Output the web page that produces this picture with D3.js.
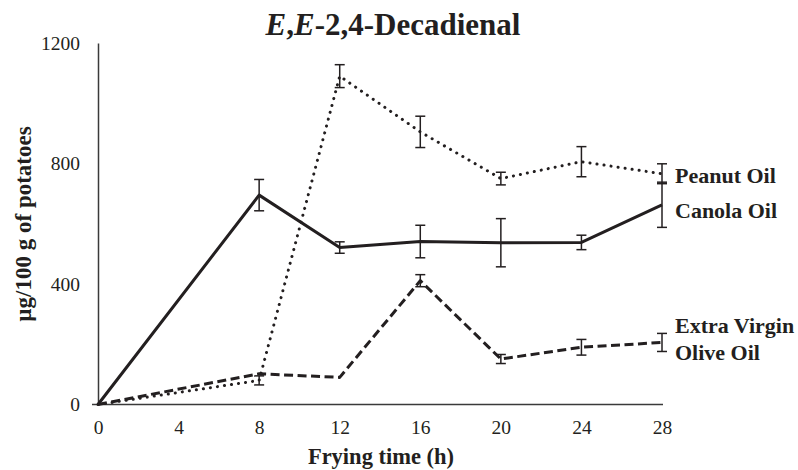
<!DOCTYPE html>
<html>
<head>
<meta charset="utf-8">
<script src="https://cdn.jsdelivr.net/npm/d3@7"></script>
<style>
  html, body { margin: 0; padding: 0; background: #fff; }
  svg { display: block; }
  text { font-family: "Liberation Serif", "Times New Roman", serif; fill: #231f20; }
</style>
</head>
<body>
<svg id="chart" width="798" height="470"></svg>
<script>
// ---- data ----
const hours = [0, 8, 12, 16, 20, 24, 28];
const xTicks = [0, 4, 8, 12, 16, 20, 24, 28];
const yTicks = [0, 400, 800, 1200];

const peanutMean = [0, 80, 1090, 905, 750, 806, 766];
const peanutErr  = [0, 15, 38, 52, 21, 50, 33];

const canolaMean = [0, 695, 521, 541, 537, 538, 663];
const canolaErr  = [0, 52, 19, 54, 80, 24, 75];

const evooMean = [0, 102, 90, 411, 151, 190, 206];
const evooErr  = [0, 0, 0, 20, 15, 26, 30];

const seriesNames = ["Peanut Oil", "Canola Oil", "Extra Virgin Olive Oil"];

// ---- chart ----
const svg = d3.select("#chart");
const x = d3.scaleLinear().domain([0, 28]).range([98, 662]);
const y = d3.scaleLinear().domain([0, 1200]).range([404.5, 43]);

const ink = "#231f20";

// axes
const yAxis = d3.axisLeft(y).tickValues(yTicks).tickSize(0).tickPadding(18).tickFormat(d3.format("d"));
const gy = svg.append("g").attr("transform", `translate(${x(0)},0)`).call(yAxis);
gy.select(".domain").attr("stroke", "#3a3a3a").attr("stroke-width", 1.5);
gy.selectAll("text").attr("font-size", 19.5).attr("font-family", "Liberation Serif").attr("fill", "#333");

const xAxis = d3.axisBottom(x).tickValues(xTicks).tickSize(0).tickPadding(16).tickFormat(d3.format("d"));
const gx = svg.append("g").attr("transform", `translate(0,${y(0)})`).call(xAxis);
gx.select(".domain").remove();
gx.append("line").attr("x1", x(0) - 6).attr("x2", x(28) + 1).attr("y1", 0).attr("y2", 0)
  .attr("stroke", "#3a3a3a").attr("stroke-width", 1.5);
gx.selectAll("text").attr("font-size", 19.5).attr("font-family", "Liberation Serif").attr("fill", "#333");

// series
const series = [
  { name: seriesNames[0], mean: peanutMean, err: peanutErr, dash: "0.1 7", width: 3, cap: "round" },
  { name: seriesNames[1], mean: canolaMean, err: canolaErr, dash: null, width: 3, cap: "butt" },
  { name: seriesNames[2], mean: evooMean, err: evooErr, dash: "9 4.5", width: 3, cap: "butt" }
];

const line = d3.line().x((d, i) => x(hours[i])).y(d => y(d));

series.forEach(s => {
  const eb = svg.append("g");
  hours.forEach((h, i) => {
    const e = s.err[i];
    if (!e) return;
    const cx = x(h), y1 = y(s.mean[i] + e), y2 = y(s.mean[i] - e);
    eb.append("line").attr("x1", cx).attr("x2", cx).attr("y1", y1).attr("y2", y2)
      .attr("stroke", ink).attr("stroke-width", 1.5);
    [y1, y2].forEach(yy => eb.append("line").attr("x1", cx - 5).attr("x2", cx + 5)
      .attr("y1", yy).attr("y2", yy).attr("stroke", ink).attr("stroke-width", 1.5));
  });
});

series.forEach(s => {
  const p = svg.append("path").datum(s.mean).attr("d", line)
    .attr("fill", "none").attr("stroke", ink).attr("stroke-width", s.width)
    .attr("stroke-linecap", s.cap).attr("stroke-linejoin", "round");
  if (s.dash) p.attr("stroke-dasharray", s.dash);
});

// series labels
const lab = svg.append("g").attr("font-size", 22).attr("font-weight", "bold");
lab.append("text").attr("x", 675).attr("y", 183).text(seriesNames[0]);
lab.append("text").attr("x", 675).attr("y", 218).text(seriesNames[1]);
const ev = lab.append("text").attr("x", 675).attr("y", 333);
ev.append("tspan").attr("x", 675).text("Extra Virgin");
ev.append("tspan").attr("x", 675).attr("dy", 27).text("Olive Oil");

// title
const t = svg.append("text").attr("x", 393).attr("y", 35).attr("text-anchor", "middle")
  .attr("font-size", 31).attr("font-weight", "bold");
t.append("tspan").attr("font-style", "italic").text("E");
t.append("tspan").text(",");
t.append("tspan").attr("font-style", "italic").text("E");
t.append("tspan").text("-2,4-Decadienal");

// axis titles
svg.append("text").attr("x", 381).attr("y", 464).attr("text-anchor", "middle")
  .attr("font-size", 22.5).attr("font-weight", "bold").text("Frying time (h)");
svg.append("text").attr("transform", "translate(31,224) rotate(-90)").attr("text-anchor", "middle")
  .attr("font-size", 23).attr("font-weight", "bold").text("µg/100 g of potatoes");
</script>
</body>
</html>
